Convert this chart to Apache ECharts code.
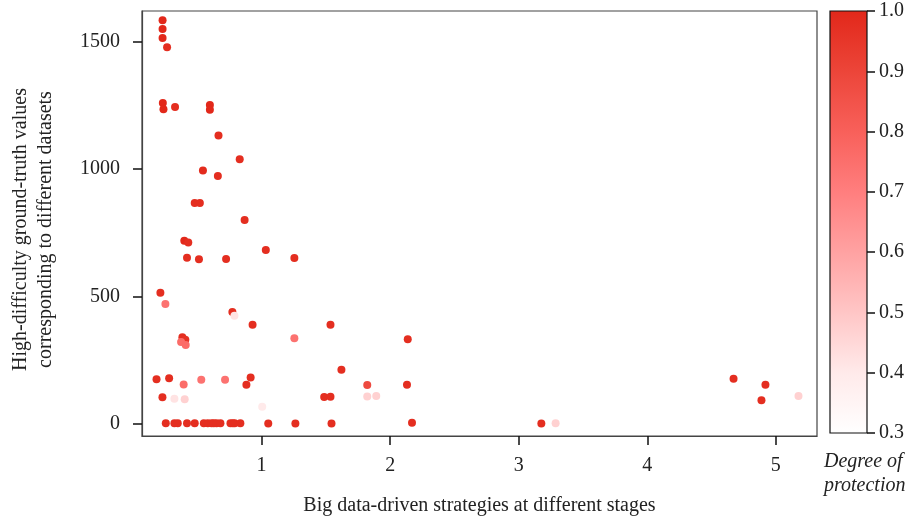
<!DOCTYPE html>
<html>
<head>
<meta charset="utf-8">
<script src="https://cdn.jsdelivr.net/npm/echarts@6/dist/echarts.min.js"></script>
<style>html,body{margin:0;padding:0;background:#fff}#c{width:912px;height:522px}</style>
</head>
<body>
<div id="c"></div>
<script>
// Data
const xValues = [
  0.23, 0.23, 0.23, 0.265, 0.232, 0.237, 0.327, 0.598, 0.598, 0.665,
  0.83, 0.544, 0.66, 0.48, 0.52, 0.868, 0.399, 0.43, 0.42, 0.513,
  0.724, 1.033, 1.255, 0.213, 0.252, 0.773, 0.789, 0.93, 1.536, 0.384,
  0.407, 0.374, 0.41, 1.255, 0.183, 0.281, 0.394, 0.531, 0.716, 0.915,
  0.882, 0.229, 0.322, 0.402, 1.005, 1.487, 1.536, 1.621, 2.137, 1.822,
  2.131, 1.822, 1.892, 4.671, 4.919, 4.888, 5.176,
  0.255, 0.322, 0.348, 0.42, 0.48, 0.551, 0.582, 0.611, 0.629, 0.65,
  0.68, 0.758, 0.776, 0.791, 0.835, 1.052, 1.263, 1.544, 2.17, 3.176, 3.287
];
const yValues = [
  1584, 1549, 1514, 1478, 1259, 1235, 1243, 1251, 1233, 1132,
  1039, 994, 973, 867, 867, 800, 719, 712, 652, 646,
  647, 683, 651, 515, 471, 439, 425, 389, 389, 340,
  331, 322, 310, 336, 176, 180, 155, 174, 174, 182,
  154, 105, 99, 97, 68, 106, 107, 213, 332, 153,
  154, 108, 110, 178, 154, 93, 110,
  3, 3, 3, 3, 3, 3, 3, 3, 3, 3,
  3, 3, 3, 3, 3, 2, 2, 2, 5, 2, 3
];
const protection = [
  1.0, 1.0, 1.0, 0.98, 1.0, 1.0, 0.98, 1.0, 1.0, 0.98,
  0.98, 0.99, 0.98, 0.98, 0.98, 0.98, 1.0, 0.98, 0.98, 0.98,
  0.98, 0.98, 0.98, 0.98, 0.74, 0.98, 0.42, 0.98, 0.98, 0.98,
  0.97, 0.76, 0.76, 0.74, 0.98, 0.98, 0.76, 0.74, 0.74, 0.98,
  0.98, 0.98, 0.42, 0.47, 0.4, 0.98, 0.98, 0.98, 0.98, 0.88,
  0.98, 0.47, 0.47, 0.98, 0.98, 0.98, 0.47,
  0.98, 0.98, 0.98, 0.98, 0.98, 0.98, 0.98, 0.98, 0.98, 0.98,
  0.98, 0.98, 0.98, 0.98, 0.98, 0.98, 0.98, 0.98, 0.98, 0.98, 0.47
];
const xTicks = [1, 2, 3, 4, 5];
const yTicks = [0, 500, 1000, 1500];
// colour scale at 0.3, 0.4, ..., 1.0
const colorStops = ['#ffffff', '#ffeaea', '#ffc6c6', '#ffa2a2', '#ff7e7e', '#f8605a', '#ec4539', '#e2281a'];

const FONT = 'Liberation Serif';
const FS = 20;
const points = xValues.map((x, i) => [x, yValues[i], protection[i]]);
const gradStops = colorStops.map((c, i) => ({offset: 1 - i / (colorStops.length - 1), color: c}));

const chart = echarts.init(document.getElementById('c'), null, {renderer: 'canvas'});
chart.setOption({
  animation: false,
  backgroundColor: '#fff',
  textStyle: {fontFamily: FONT},
  grid: [
    {left: 138, right: 95, top: 11, bottom: 86, show: true, borderColor: '#444', borderWidth: 1.2, backgroundColor: 'transparent'},
    {left: 830, width: 37, top: 11, height: 422, show: true, borderColor: '#111', borderWidth: 1.2,
     backgroundColor: new echarts.graphic.LinearGradient(0, 0, 0, 1, gradStops)}
  ],
  xAxis: [
    {gridIndex: 0, type: 'value', min: 0.07, max: 5.32,
     axisLine: {show: true, onZero: false, lineStyle: {color: '#444', width: 1.2}},
     axisTick: {show: true, inside: false, length: 9, customValues: xTicks, lineStyle: {color: '#111', width: 1.5}},
     axisLabel: {customValues: xTicks, margin: 20, color: '#222', fontSize: FS, fontFamily: FONT},
     splitLine: {show: false},
     name: 'Big data-driven strategies at different stages', nameLocation: 'middle', nameGap: 60,
     nameTextStyle: {color: '#222', fontSize: FS, fontFamily: FONT}},
    {gridIndex: 1, type: 'value', min: 0, max: 1, show: false}
  ],
  yAxis: [
    {gridIndex: 0, type: 'value', min: -47, max: 1620,
     axisLine: {show: true, onZero: false, lineStyle: {color: '#444', width: 1.2}},
     axisTick: {show: true, inside: false, length: 9, customValues: yTicks, lineStyle: {color: '#111', width: 1.5}},
     axisLabel: {customValues: yTicks, margin: 22, color: '#222', fontSize: FS, fontFamily: FONT,
       formatter: v => String(v)},
     splitLine: {show: false},
     name: 'High-difficulty ground-truth values\ncorresponding to different datasets',
     nameLocation: 'middle', nameGap: 84, nameRotate: 90,
     nameTextStyle: {color: '#222', fontSize: FS, fontFamily: FONT, lineHeight: 25, padding: [0, 12, 0, 0]}},
    {gridIndex: 1, type: 'value', position: 'right', min: 0.3, max: 1.0, interval: 0.1,
     axisLine: {show: false, onZero: false},
     axisTick: {show: true, inside: false, length: 8, lineStyle: {color: '#111', width: 1.5}},
     axisLabel: {margin: 12, color: '#222', fontSize: FS, fontFamily: FONT,
       formatter: v => v.toFixed(1), showMinLabel: true, showMaxLabel: true},
     splitLine: {show: false}}
  ],
  visualMap: {
    show: false, type: 'continuous', dimension: 2, min: 0.3, max: 1.0, seriesIndex: 0,
    inRange: {color: colorStops}
  },
  series: [{
    type: 'scatter', xAxisIndex: 0, yAxisIndex: 0, data: points,
    symbolSize: 8, itemStyle: {opacity: 1}
  }],
  graphic: [{
    type: 'text', left: 824, top: 450,
    style: {text: 'Degree of\nprotection', font: 'italic 20px "Liberation Serif"', fill: '#222', lineHeight: 24, align: 'left'}
  }]
});
</script>
</body>
</html>
